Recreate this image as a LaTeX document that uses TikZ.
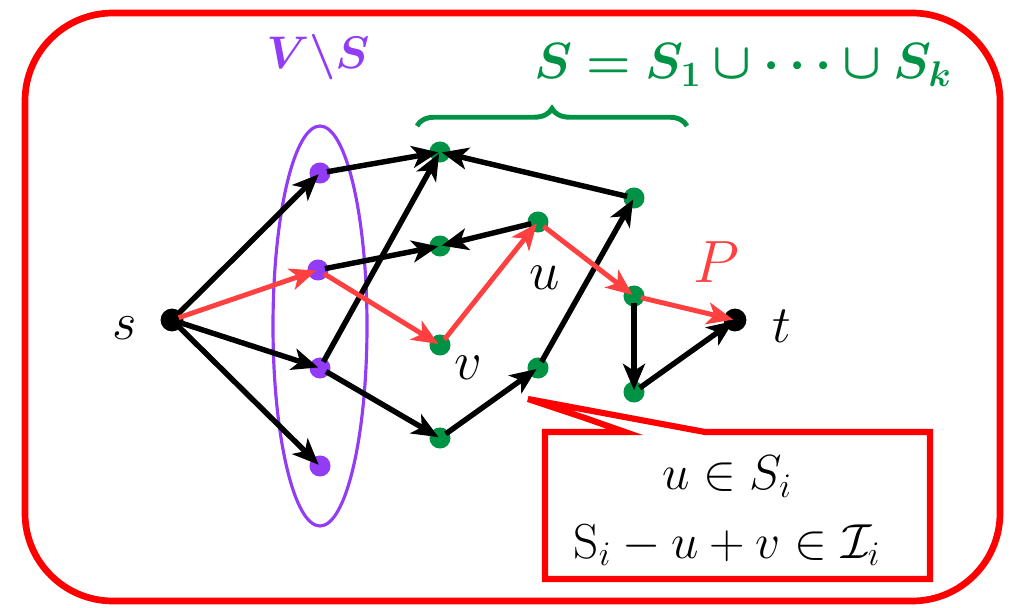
\documentclass[tikz,border=0pt]{standalone}
\usepackage{fix-cm}
\usepackage{amsmath,amssymb,bm}
\usetikzlibrary{arrows.meta,decorations.pathreplacing}
\definecolor{mygreen}{RGB}{0,146,69}
\definecolor{mypurple}{RGB}{146,60,245}
\definecolor{myred}{RGB}{255,0,0}
\definecolor{pathred}{RGB}{255,64,64}
\tikzset{
  gdot/.style={circle,fill=mygreen,inner sep=0pt,minimum size=12pt},
  pdot/.style={circle,fill=mypurple,inner sep=0pt,minimum size=12pt},
  bdot/.style={circle,fill=black,inner sep=0pt,minimum size=13pt},
  edge/.style={line width=3.1pt,black,-{Stealth[length=15pt,width=12.5pt,inset=4pt]},shorten <=4pt,shorten >=1pt},
  redge/.style={line width=2.8pt,pathred,-{Stealth[length=15pt,width=12.5pt,inset=4pt]},shorten <=4pt,shorten >=1pt},
  lab/.style={inner sep=0pt,font=\fontsize{30}{36}\selectfont},
}
\begin{document}
\begin{tikzpicture}[x=0.02cm,y=-0.02cm]
\useasboundingbox (0,0) rectangle (1015,608);
% outer frame
\draw[myred,line width=3.8pt,rounded corners=50pt] (25,13) rectangle (1000,601);
% ellipse
\draw[mypurple,line width=1.8pt] (320,326) ellipse [x radius=47,y radius=200];
% nodes
\node[bdot] (s) at (172,320) {};
\node[bdot] (t) at (735,320) {};
\node[pdot] (p1) at (320,173) {};
\node[pdot] (p2) at (318,270) {};
\node[pdot] (p3) at (320,368) {};
\node[pdot] (p4) at (320,466) {};
\node[gdot] (g1) at (440,152) {};
\node[gdot] (g2) at (440,246) {};
\node[gdot] (v)  at (440,345) {};
\node[gdot] (g4) at (440,438) {};
\node[gdot] (u)  at (538,222) {};
\node[gdot] (g6) at (538,368) {};
\node[gdot] (g7) at (634,198) {};
\node[gdot] (g8) at (634,296) {};
\node[gdot] (g9) at (634,392) {};
% black edges
\draw[edge] (s.center) -- (p1.center);
\draw[edge] (s.center) -- (p3.center);
\draw[edge] (s.center) -- (p4.center);
\draw[edge] (p1.center) -- (g1.center);
\draw[edge] (p3.center) -- (g1.center);
\draw[edge] (p2.center) -- (g2.center);
\draw[edge] (p3.center) -- (g4.center);
\draw[edge] (u.center) -- (g2.center);
\draw[edge] (g4.center) -- (g6.center);
\draw[edge] (g6.center) -- (g7.center);
\draw[edge] (g7.center) -- (g1.center);
\draw[edge] (g8.center) -- (g9.center);
\draw[edge] (g9.center) -- (t.center);
% red path
\draw[redge] (s.center) -- (p2.center);
\draw[redge] (p2.center) -- (v.center);
\draw[redge] (v.center) -- (u.center);
\draw[redge] (u.center) -- (g8.center);
\draw[redge] (g8.center) -- (t.center);
% labels
\node[lab] (sl) at (125,328) {$s$};
\node[lab] (tl) at (782,326) {$t$};
\node[lab,font=\fontsize{31}{36}\selectfont] (ul) at (545,278) {$u$};
\node[lab,font=\fontsize{31}{36}\selectfont] (vl) at (468,368) {$v$};
\node[lab,text=pathred,font=\fontsize{34}{40}\selectfont] (Pl) at (716,262) {$P$};
\node[lab,text=mypurple,font=\fontsize{26}{30}\selectfont] (VS) at (318,57) {$\bm{V\backslash S}$};
\node[lab,text=mygreen,font=\fontsize{29}{34}\selectfont] (SS) at (743,65) {$\bm{S=S_1\cup\cdots\cup S_k}$};
% brace
\draw[mygreen,line width=2.8pt,decorate,decoration={brace,amplitude=10pt}] (417,126) -- (687,126);
% callout
\draw[myred,line width=3.5pt,line join=miter] (545,432) -- (625,432) -- (585,418) -- (528,399) -- (705,432) -- (930,432) -- (930,579) -- (545,579) -- cycle;
\node[align=center,inner sep=0pt,font=\fontsize{28}{39}\selectfont] (co) at (727,511) {$u\in S_i$\\ $\mathrm{S}_i-u+v\in\mathcal{I}_i$};
\end{tikzpicture}
\end{document}
